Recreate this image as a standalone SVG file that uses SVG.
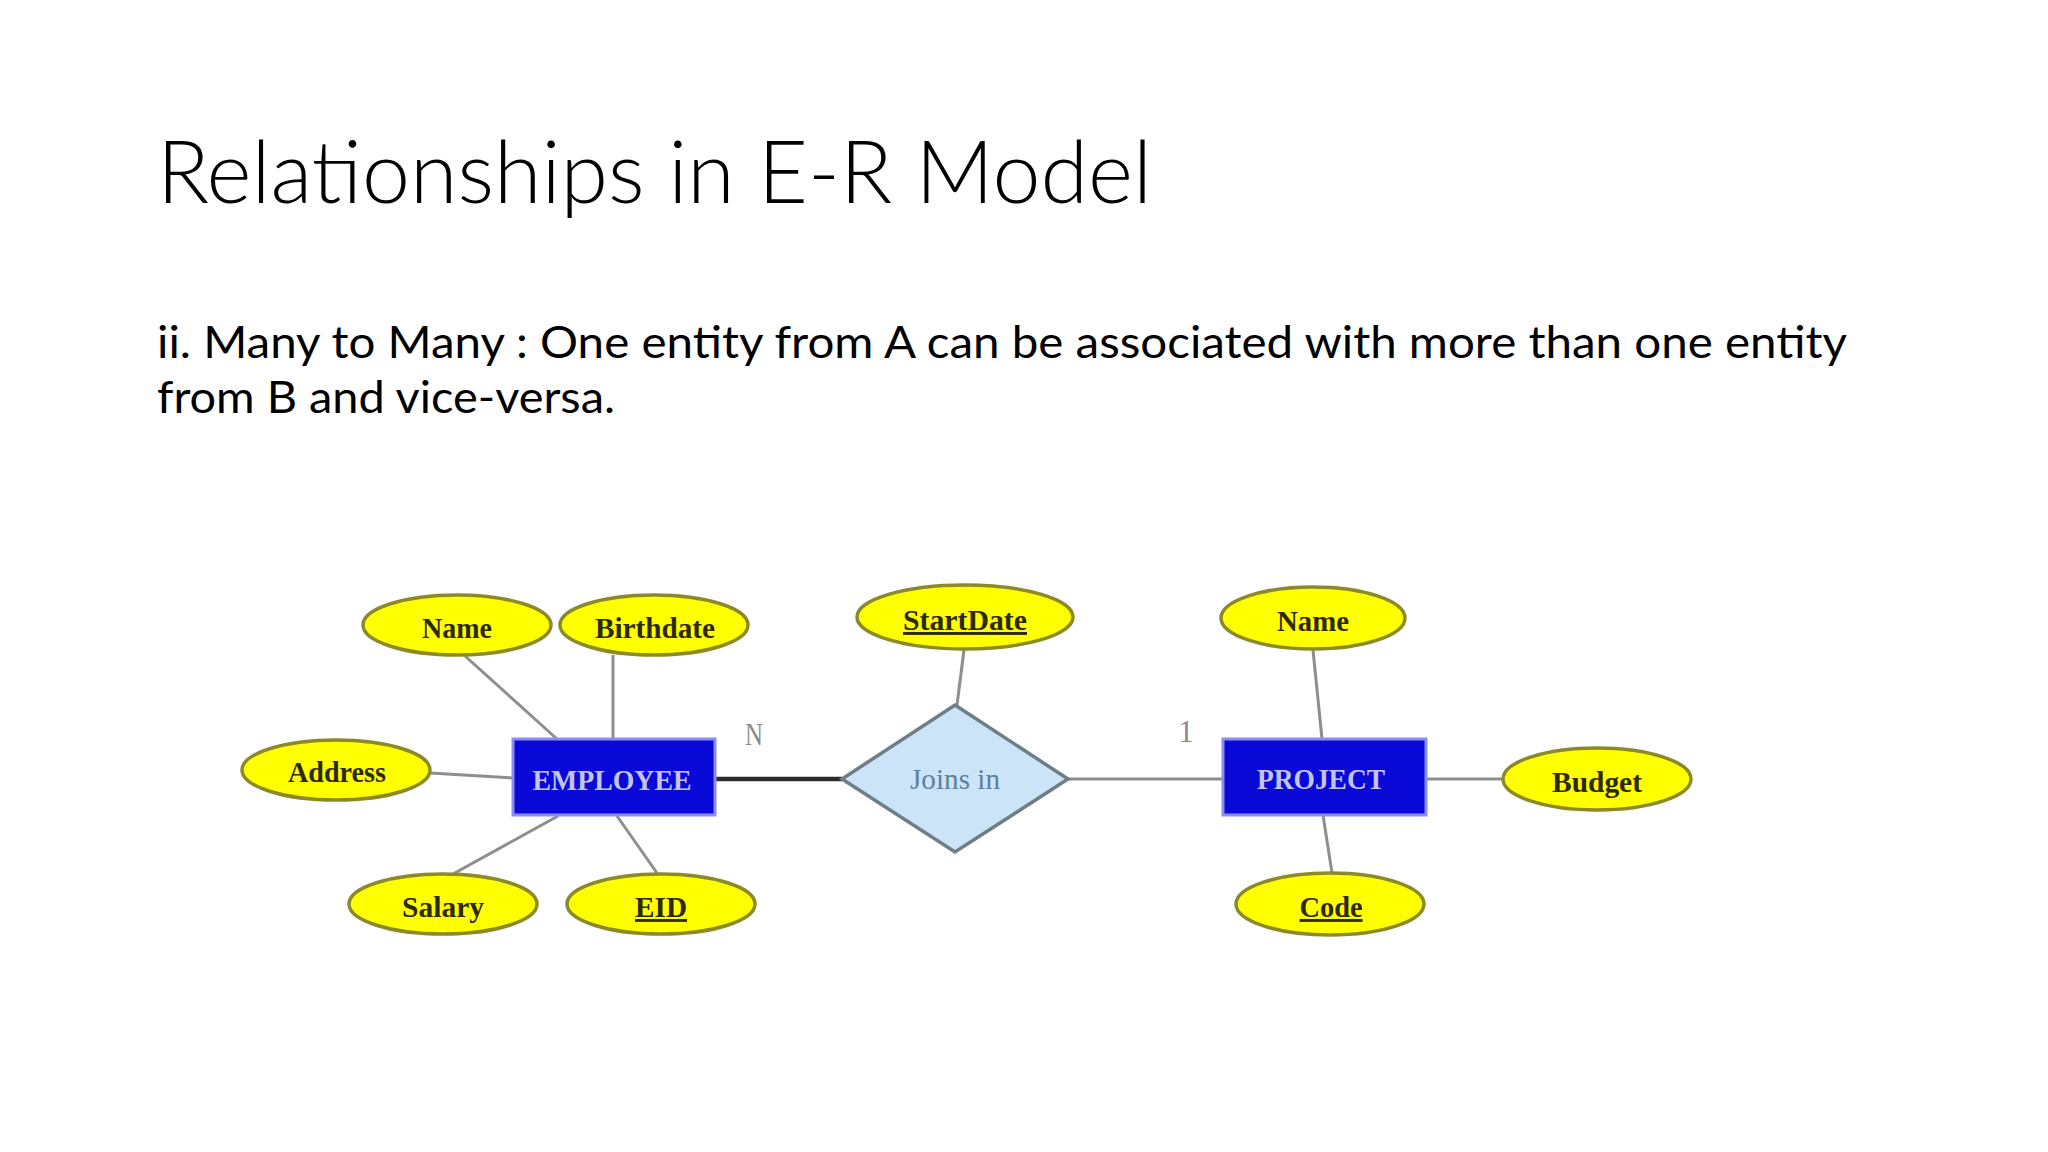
<svg xmlns="http://www.w3.org/2000/svg" width="2048" height="1152" viewBox="0 0 2048 1152">
<style>
.title{font-family:Lato,"Open Sans","Liberation Sans",sans-serif;font-weight:300;font-size:86px;fill:#000}
.body{font-family:Lato,"Open Sans","Liberation Sans",sans-serif;font-size:45px;fill:#000}
.attr ellipse{fill:#ffff00;stroke:#8c8a28;stroke-width:3.5}
.attr text{font-family:"Liberation Serif","Times New Roman",serif;font-weight:bold;font-size:29px;fill:#2e2a00;text-anchor:middle}
.key text{text-decoration:underline}
.ent rect{fill:#0a0ad8;stroke:#8c8cf4;stroke-width:3}
.ent text{font-family:"Liberation Serif","Times New Roman",serif;font-weight:bold;font-size:29px;fill:#c4c4f2;text-anchor:middle}
.rel polygon{fill:#cce4f8;stroke:#6e7e86;stroke-width:3.5}
.rel text{font-family:"Liberation Serif","Times New Roman",serif;font-size:29px;fill:#5f7f9f;text-anchor:middle}
.card{font-family:"Liberation Serif","Times New Roman",serif;font-size:31px;fill:#8a8a8a;text-anchor:middle}
#connectors line{stroke:#8e8e8e;stroke-width:3}
#connectors line.thick{stroke:#2c2c2c;stroke-width:4.5}
</style>
<rect width="2048" height="1152" fill="#ffffff"/>
<text class="title" x="157" y="203" textLength="995" lengthAdjust="spacingAndGlyphs">Relationships in E-R Model</text>
<text class="body" x="157" y="358" textLength="1690" lengthAdjust="spacingAndGlyphs">ii. Many to Many : One entity from A can be associated with more than one entity</text>
<text class="body" x="157" y="413" textLength="458" lengthAdjust="spacingAndGlyphs">from B and vice-versa.</text>

<g id="connectors">
<line x1="465" y1="656" x2="557" y2="739"/>
<line x1="613" y1="655" x2="613" y2="739"/>
<line x1="430" y1="773" x2="513" y2="778"/>
<line x1="453" y1="874" x2="558" y2="816"/>
<line x1="617" y1="816" x2="657" y2="873"/>
<line class="thick" x1="715" y1="779" x2="842" y2="779"/>
<line x1="964" y1="650" x2="957" y2="705"/>
<line x1="1068" y1="779" x2="1223" y2="779"/>
<line x1="1313" y1="650" x2="1322" y2="739"/>
<line x1="1323" y1="815" x2="1332" y2="873"/>
<line x1="1426" y1="779" x2="1503" y2="779"/>
</g>

<text class="card" x="754" y="745" textLength="18" lengthAdjust="spacingAndGlyphs">N</text>
<text class="card" x="1186" y="742">1</text>

<g id="emp-name" class="attr"><ellipse cx="457" cy="625" rx="94" ry="30"/><text x="457" y="638" textLength="70" lengthAdjust="spacingAndGlyphs">Name</text></g>
<g id="emp-birthdate" class="attr"><ellipse cx="654" cy="625" rx="94" ry="30"/><text x="655" y="638" textLength="120" lengthAdjust="spacingAndGlyphs">Birthdate</text></g>
<g id="emp-address" class="attr"><ellipse cx="336" cy="770" rx="94" ry="30"/><text x="337" y="782" textLength="98" lengthAdjust="spacingAndGlyphs">Address</text></g>
<g id="emp-salary" class="attr"><ellipse cx="443" cy="904" rx="94" ry="30"/><text x="443" y="917" textLength="82" lengthAdjust="spacingAndGlyphs">Salary</text></g>
<g id="emp-eid" class="attr key"><ellipse cx="661" cy="904" rx="94" ry="30"/><text x="661" y="917" textLength="52" lengthAdjust="spacingAndGlyphs">EID</text></g>
<g id="rel-startdate" class="attr key"><ellipse cx="965" cy="617" rx="108" ry="32"/><text x="965" y="630" textLength="124" lengthAdjust="spacingAndGlyphs">StartDate</text></g>
<g id="proj-name" class="attr"><ellipse cx="1313" cy="618" rx="92" ry="31"/><text x="1313" y="631" textLength="72" lengthAdjust="spacingAndGlyphs">Name</text></g>
<g id="proj-budget" class="attr"><ellipse cx="1597" cy="779" rx="94" ry="31"/><text x="1597" y="792" textLength="90" lengthAdjust="spacingAndGlyphs">Budget</text></g>
<g id="proj-code" class="attr key"><ellipse cx="1330" cy="904" rx="94" ry="31"/><text x="1331" y="917" textLength="63" lengthAdjust="spacingAndGlyphs">Code</text></g>

<g id="employee" class="ent"><rect x="513" y="739" width="202" height="76"/><text x="612" y="790" textLength="159" lengthAdjust="spacingAndGlyphs">EMPLOYEE</text></g>
<g id="joins-in" class="rel"><polygon points="955,705 1068,779 955,852 842,779"/><text x="955" y="789" textLength="90" lengthAdjust="spacingAndGlyphs">Joins in</text></g>
<g id="project" class="ent"><rect x="1223" y="739" width="203" height="76"/><text x="1321" y="789" textLength="128" lengthAdjust="spacingAndGlyphs">PROJECT</text></g>
</svg>
